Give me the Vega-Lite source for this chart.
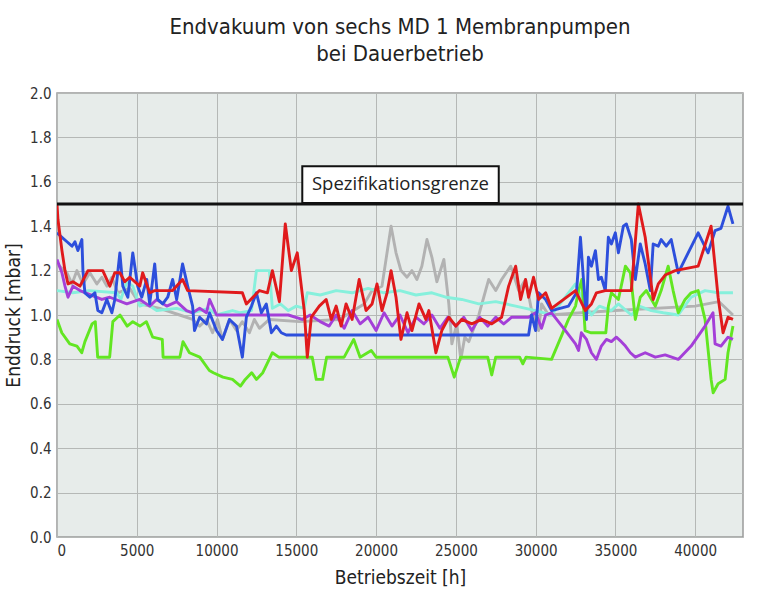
{
  "$schema": "https://vega.github.io/schema/vega-lite/v6.json",
  "autosize": "none",
  "width": 686,
  "height": 444,
  "padding": {"left": 57, "top": 93, "right": 31, "bottom": 61},
  "background": "white",
  "title": {
    "text": ["Endvakuum von sechs MD 1 Membranpumpen", "bei Dauerbetrieb"],
    "font": "DejaVu Sans Condensed, Liberation Sans Narrow, Roboto Condensed, sans-serif",
    "fontSize": 22,
    "fontWeight": "normal",
    "color": "#222",
    "lineHeight": 27,
    "offset": 20,
    "anchor": "middle"
  },
  "config": {
    "view": {"fill": "#e7ecea", "stroke": "#9a9a9a", "strokeWidth": 1.5},
    "axis": {
      "labelFont": "DejaVu Sans Condensed, Liberation Sans Narrow, Roboto Condensed, sans-serif",
      "titleFont": "DejaVu Sans Condensed, Liberation Sans Narrow, Roboto Condensed, sans-serif",
      "labelFontSize": 15,
      "titleFontSize": 19,
      "titleFontWeight": "normal",
      "labelColor": "#333",
      "titleColor": "#222",
      "gridColor": "#b5b8b6",
      "gridWidth": 1,
      "gridOpacity": 1,
      "ticks": false,
      "domain": false
    }
  },
  "datasets": {
    "pumps": [
      {"s":"grau","h":0,"p":1.23},{"s":"grau","h":625,"p":1.19},{"s":"grau","h":940,"p":1.14},{"s":"grau","h":1250,"p":1.2},{"s":"grau","h":1625,"p":1.14},{"s":"grau","h":2060,"p":1.19},{"s":"grau","h":2500,"p":1.14},{"s":"grau","h":2810,"p":1.17},{"s":"grau","h":3125,"p":1.13},{"s":"grau","h":3440,"p":1.17},{"s":"grau","h":3810,"p":1.1},{"s":"grau","h":4560,"p":1.12},{"s":"grau","h":5190,"p":1.05},{"s":"grau","h":6440,"p":1.03},{"s":"grau","h":7690,"p":1.0},{"s":"grau","h":8500,"p":0.98},{"s":"grau","h":8940,"p":0.95},{"s":"grau","h":9370,"p":0.98},{"s":"grau","h":9750,"p":0.92},{"s":"grau","h":10060,"p":0.98},{"s":"grau","h":10370,"p":0.89},{"s":"grau","h":10810,"p":0.98},{"s":"grau","h":11250,"p":0.93},{"s":"grau","h":11620,"p":0.97},{"s":"grau","h":12060,"p":0.92},{"s":"grau","h":12370,"p":0.98},{"s":"grau","h":12690,"p":0.94},{"s":"grau","h":13310,"p":0.98},{"s":"grau","h":15190,"p":0.97},{"s":"grau","h":17690,"p":0.98},{"s":"grau","h":19250,"p":1.05},{"s":"grau","h":19750,"p":1.11},{"s":"grau","h":20370,"p":1.13},{"s":"grau","h":20940,"p":1.4},{"s":"grau","h":21250,"p":1.28},{"s":"grau","h":21560,"p":1.2},{"s":"grau","h":21940,"p":1.17},{"s":"grau","h":22250,"p":1.2},{"s":"grau","h":22560,"p":1.16},{"s":"grau","h":22870,"p":1.22},{"s":"grau","h":23190,"p":1.34},{"s":"grau","h":23500,"p":1.26},{"s":"grau","h":23810,"p":1.15},{"s":"grau","h":24250,"p":1.25},{"s":"grau","h":24560,"p":1.05},{"s":"grau","h":24750,"p":0.87},{"s":"grau","h":25060,"p":0.96},{"s":"grau","h":25310,"p":0.8},{"s":"grau","h":25560,"p":0.9},{"s":"grau","h":25810,"p":0.88},{"s":"grau","h":26440,"p":1.0},{"s":"grau","h":27060,"p":1.16},{"s":"grau","h":27500,"p":1.11},{"s":"grau","h":27870,"p":1.16},{"s":"grau","h":28440,"p":1.22},{"s":"grau","h":28940,"p":1.11},{"s":"grau","h":29370,"p":1.16},{"s":"grau","h":29750,"p":1.02},{"s":"grau","h":30190,"p":0.93},{"s":"grau","h":30370,"p":1.05},{"s":"grau","h":30810,"p":1.0},{"s":"grau","h":35000,"p":1.02},{"s":"grau","h":40000,"p":1.04},{"s":"grau","h":41500,"p":1.06},{"s":"grau","h":42370,"p":1.0},

      {"s":"tuerkis","h":0,"p":1.11},{"s":"tuerkis","h":1000,"p":1.1},{"s":"tuerkis","h":2000,"p":1.11},{"s":"tuerkis","h":3750,"p":1.1},{"s":"tuerkis","h":4000,"p":1.07},{"s":"tuerkis","h":4375,"p":1.15},{"s":"tuerkis","h":4750,"p":1.13},{"s":"tuerkis","h":5190,"p":1.04},{"s":"tuerkis","h":5600,"p":1.05},{"s":"tuerkis","h":6250,"p":1.02},{"s":"tuerkis","h":7500,"p":1.03},{"s":"tuerkis","h":8500,"p":1.01},{"s":"tuerkis","h":9500,"p":1.03},{"s":"tuerkis","h":10000,"p":1.0},{"s":"tuerkis","h":11000,"p":1.02},{"s":"tuerkis","h":11500,"p":1.01},{"s":"tuerkis","h":12190,"p":1.02},{"s":"tuerkis","h":12500,"p":1.2},{"s":"tuerkis","h":13310,"p":1.2},{"s":"tuerkis","h":13500,"p":1.03},{"s":"tuerkis","h":14000,"p":1.05},{"s":"tuerkis","h":14500,"p":1.02},{"s":"tuerkis","h":15000,"p":1.04},{"s":"tuerkis","h":15500,"p":1.03},{"s":"tuerkis","h":15690,"p":1.1},{"s":"tuerkis","h":16500,"p":1.09},{"s":"tuerkis","h":17500,"p":1.11},{"s":"tuerkis","h":18500,"p":1.1},{"s":"tuerkis","h":19500,"p":1.12},{"s":"tuerkis","h":20500,"p":1.1},{"s":"tuerkis","h":21500,"p":1.11},{"s":"tuerkis","h":22500,"p":1.09},{"s":"tuerkis","h":23500,"p":1.1},{"s":"tuerkis","h":24370,"p":1.08},{"s":"tuerkis","h":25370,"p":1.07},{"s":"tuerkis","h":26440,"p":1.05},{"s":"tuerkis","h":27500,"p":1.06},{"s":"tuerkis","h":28750,"p":1.04},{"s":"tuerkis","h":30000,"p":1.02},{"s":"tuerkis","h":31000,"p":1.0},{"s":"tuerkis","h":32500,"p":1.14},{"s":"tuerkis","h":33000,"p":1.06},{"s":"tuerkis","h":33500,"p":1.0},{"s":"tuerkis","h":34000,"p":1.04},{"s":"tuerkis","h":34750,"p":1.02},{"s":"tuerkis","h":35190,"p":1.05},{"s":"tuerkis","h":36000,"p":1.0},{"s":"tuerkis","h":36500,"p":1.04},{"s":"tuerkis","h":37250,"p":1.02},{"s":"tuerkis","h":38000,"p":1.01},{"s":"tuerkis","h":38940,"p":1.0},{"s":"tuerkis","h":39750,"p":1.08},{"s":"tuerkis","h":40620,"p":1.11},{"s":"tuerkis","h":41440,"p":1.1},{"s":"tuerkis","h":42370,"p":1.1},

      {"s":"gruen","h":0,"p":0.98},{"s":"gruen","h":300,"p":0.92},{"s":"gruen","h":800,"p":0.87},{"s":"gruen","h":1250,"p":0.86},{"s":"gruen","h":1550,"p":0.83},{"s":"gruen","h":1750,"p":0.88},{"s":"gruen","h":2200,"p":0.96},{"s":"gruen","h":2400,"p":0.97},{"s":"gruen","h":2550,"p":0.81},{"s":"gruen","h":3300,"p":0.81},{"s":"gruen","h":3500,"p":0.97},{"s":"gruen","h":3950,"p":1.0},{"s":"gruen","h":4400,"p":0.95},{"s":"gruen","h":4750,"p":0.97},{"s":"gruen","h":5200,"p":0.95},{"s":"gruen","h":5600,"p":0.97},{"s":"gruen","h":6000,"p":0.9},{"s":"gruen","h":6600,"p":0.89},{"s":"gruen","h":6650,"p":0.81},{"s":"gruen","h":7700,"p":0.81},{"s":"gruen","h":7900,"p":0.88},{"s":"gruen","h":8300,"p":0.83},{"s":"gruen","h":8950,"p":0.81},{"s":"gruen","h":9550,"p":0.75},{"s":"gruen","h":9800,"p":0.74},{"s":"gruen","h":10400,"p":0.72},{"s":"gruen","h":11000,"p":0.71},{"s":"gruen","h":11500,"p":0.68},{"s":"gruen","h":11800,"p":0.71},{"s":"gruen","h":12200,"p":0.74},{"s":"gruen","h":12500,"p":0.71},{"s":"gruen","h":12900,"p":0.74},{"s":"gruen","h":13300,"p":0.8},{"s":"gruen","h":13500,"p":0.83},{"s":"gruen","h":13900,"p":0.81},{"s":"gruen","h":16000,"p":0.81},{"s":"gruen","h":16250,"p":0.71},{"s":"gruen","h":16650,"p":0.71},{"s":"gruen","h":16900,"p":0.81},{"s":"gruen","h":18000,"p":0.81},{"s":"gruen","h":18600,"p":0.89},{"s":"gruen","h":19000,"p":0.81},{"s":"gruen","h":19700,"p":0.84},{"s":"gruen","h":20000,"p":0.81},{"s":"gruen","h":24500,"p":0.81},{"s":"gruen","h":24900,"p":0.72},{"s":"gruen","h":25300,"p":0.81},{"s":"gruen","h":27000,"p":0.81},{"s":"gruen","h":27250,"p":0.73},{"s":"gruen","h":27500,"p":0.81},{"s":"gruen","h":29000,"p":0.81},{"s":"gruen","h":29200,"p":0.78},{"s":"gruen","h":29400,"p":0.81},{"s":"gruen","h":31000,"p":0.8},{"s":"gruen","h":32060,"p":0.98},{"s":"gruen","h":32500,"p":1.04},{"s":"gruen","h":32700,"p":1.11},{"s":"gruen","h":32900,"p":1.16},{"s":"gruen","h":33100,"p":0.93},{"s":"gruen","h":33450,"p":0.92},{"s":"gruen","h":34400,"p":0.92},{"s":"gruen","h":34560,"p":1.04},{"s":"gruen","h":34750,"p":1.1},{"s":"gruen","h":35190,"p":1.07},{"s":"gruen","h":35630,"p":1.22},{"s":"gruen","h":35940,"p":1.19},{"s":"gruen","h":36250,"p":0.98},{"s":"gruen","h":36560,"p":1.08},{"s":"gruen","h":36940,"p":1.11},{"s":"gruen","h":37500,"p":1.04},{"s":"gruen","h":37870,"p":1.11},{"s":"gruen","h":38310,"p":1.22},{"s":"gruen","h":38620,"p":1.11},{"s":"gruen","h":38940,"p":1.01},{"s":"gruen","h":39370,"p":1.07},{"s":"gruen","h":39750,"p":1.1},{"s":"gruen","h":40190,"p":1.11},{"s":"gruen","h":40620,"p":0.98},{"s":"gruen","h":41000,"p":0.71},{"s":"gruen","h":41130,"p":0.65},{"s":"gruen","h":41440,"p":0.69},{"s":"gruen","h":41880,"p":0.71},{"s":"gruen","h":42060,"p":0.83},{"s":"gruen","h":42370,"p":0.95},

      {"s":"lila","h":0,"p":1.25},{"s":"lila","h":310,"p":1.19},{"s":"lila","h":500,"p":1.13},{"s":"lila","h":690,"p":1.08},{"s":"lila","h":1000,"p":1.13},{"s":"lila","h":1440,"p":1.11},{"s":"lila","h":2810,"p":1.07},{"s":"lila","h":3310,"p":1.08},{"s":"lila","h":4375,"p":1.05},{"s":"lila","h":5190,"p":1.07},{"s":"lila","h":5810,"p":1.04},{"s":"lila","h":6250,"p":1.07},{"s":"lila","h":6880,"p":1.04},{"s":"lila","h":7500,"p":1.06},{"s":"lila","h":8120,"p":1.02},{"s":"lila","h":8500,"p":1.01},{"s":"lila","h":8940,"p":1.03},{"s":"lila","h":9370,"p":1.01},{"s":"lila","h":9560,"p":1.07},{"s":"lila","h":10000,"p":1.0},{"s":"lila","h":14500,"p":1.0},{"s":"lila","h":15370,"p":0.98},{"s":"lila","h":15870,"p":1.0},{"s":"lila","h":16500,"p":0.97},{"s":"lila","h":17060,"p":0.95},{"s":"lila","h":17500,"p":1.0},{"s":"lila","h":18000,"p":0.94},{"s":"lila","h":18500,"p":1.02},{"s":"lila","h":19000,"p":0.96},{"s":"lila","h":19500,"p":0.99},{"s":"lila","h":20000,"p":0.93},{"s":"lila","h":20500,"p":1.01},{"s":"lila","h":21000,"p":0.95},{"s":"lila","h":21500,"p":1.0},{"s":"lila","h":22000,"p":0.92},{"s":"lila","h":22500,"p":0.99},{"s":"lila","h":23000,"p":0.96},{"s":"lila","h":23500,"p":1.0},{"s":"lila","h":24000,"p":0.94},{"s":"lila","h":24500,"p":0.99},{"s":"lila","h":25000,"p":0.95},{"s":"lila","h":25500,"p":0.99},{"s":"lila","h":26000,"p":0.93},{"s":"lila","h":26500,"p":0.99},{"s":"lila","h":27000,"p":0.95},{"s":"lila","h":27500,"p":0.99},{"s":"lila","h":28000,"p":0.96},{"s":"lila","h":28500,"p":0.99},{"s":"lila","h":29560,"p":0.99},{"s":"lila","h":30000,"p":1.01},{"s":"lila","h":30370,"p":0.94},{"s":"lila","h":30630,"p":1.0},{"s":"lila","h":31000,"p":1.01},{"s":"lila","h":31870,"p":0.93},{"s":"lila","h":32500,"p":0.87},{"s":"lila","h":32690,"p":0.84},{"s":"lila","h":32870,"p":0.92},{"s":"lila","h":33190,"p":0.89},{"s":"lila","h":33500,"p":0.83},{"s":"lila","h":33810,"p":0.8},{"s":"lila","h":34120,"p":0.86},{"s":"lila","h":34440,"p":0.89},{"s":"lila","h":34750,"p":0.88},{"s":"lila","h":35060,"p":0.9},{"s":"lila","h":35370,"p":0.88},{"s":"lila","h":35630,"p":0.86},{"s":"lila","h":35940,"p":0.83},{"s":"lila","h":36250,"p":0.81},{"s":"lila","h":36870,"p":0.83},{"s":"lila","h":37500,"p":0.81},{"s":"lila","h":38120,"p":0.82},{"s":"lila","h":38940,"p":0.8},{"s":"lila","h":39750,"p":0.86},{"s":"lila","h":40620,"p":0.95},{"s":"lila","h":41120,"p":1.01},{"s":"lila","h":41250,"p":0.87},{"s":"lila","h":41620,"p":0.86},{"s":"lila","h":42060,"p":0.9},{"s":"lila","h":42370,"p":0.89},

      {"s":"blau","h":0,"p":1.37},{"s":"blau","h":310,"p":1.35},{"s":"blau","h":625,"p":1.33},{"s":"blau","h":940,"p":1.31},{"s":"blau","h":1125,"p":1.33},{"s":"blau","h":1310,"p":1.29},{"s":"blau","h":1560,"p":1.34},{"s":"blau","h":1625,"p":1.2},{"s":"blau","h":1750,"p":1.1},{"s":"blau","h":2060,"p":1.08},{"s":"blau","h":2375,"p":1.1},{"s":"blau","h":2560,"p":1.02},{"s":"blau","h":2810,"p":1.01},{"s":"blau","h":3125,"p":1.07},{"s":"blau","h":3440,"p":1.01},{"s":"blau","h":3625,"p":1.07},{"s":"blau","h":3940,"p":1.28},{"s":"blau","h":4125,"p":1.13},{"s":"blau","h":4440,"p":1.08},{"s":"blau","h":4750,"p":1.28},{"s":"blau","h":5060,"p":1.13},{"s":"blau","h":5310,"p":1.08},{"s":"blau","h":5625,"p":1.16},{"s":"blau","h":5810,"p":1.05},{"s":"blau","h":6125,"p":1.23},{"s":"blau","h":6310,"p":1.07},{"s":"blau","h":6625,"p":1.05},{"s":"blau","h":6940,"p":1.08},{"s":"blau","h":7250,"p":1.16},{"s":"blau","h":7500,"p":1.07},{"s":"blau","h":7870,"p":1.23},{"s":"blau","h":8190,"p":1.13},{"s":"blau","h":8500,"p":1.04},{"s":"blau","h":8620,"p":0.93},{"s":"blau","h":8940,"p":0.99},{"s":"blau","h":9370,"p":0.96},{"s":"blau","h":9560,"p":1.01},{"s":"blau","h":10000,"p":0.93},{"s":"blau","h":10370,"p":0.89},{"s":"blau","h":10810,"p":0.98},{"s":"blau","h":11250,"p":0.95},{"s":"blau","h":11620,"p":0.81},{"s":"blau","h":11870,"p":0.99},{"s":"blau","h":12190,"p":1.04},{"s":"blau","h":12500,"p":1.1},{"s":"blau","h":12810,"p":1.01},{"s":"blau","h":13120,"p":1.05},{"s":"blau","h":13440,"p":0.92},{"s":"blau","h":13750,"p":0.95},{"s":"blau","h":14060,"p":0.92},{"s":"blau","h":14370,"p":0.91},{"s":"blau","h":20000,"p":0.91},{"s":"blau","h":25000,"p":0.91},{"s":"blau","h":29560,"p":0.91},{"s":"blau","h":29750,"p":1.0},{"s":"blau","h":30000,"p":0.93},{"s":"blau","h":30190,"p":1.1},{"s":"blau","h":30630,"p":1.07},{"s":"blau","h":31000,"p":1.02},{"s":"blau","h":32060,"p":1.04},{"s":"blau","h":32560,"p":1.1},{"s":"blau","h":32810,"p":1.35},{"s":"blau","h":33000,"p":1.16},{"s":"blau","h":33190,"p":0.98},{"s":"blau","h":33310,"p":1.26},{"s":"blau","h":33500,"p":1.22},{"s":"blau","h":33750,"p":1.29},{"s":"blau","h":33940,"p":1.16},{"s":"blau","h":34120,"p":1.17},{"s":"blau","h":34370,"p":1.11},{"s":"blau","h":34560,"p":1.35},{"s":"blau","h":34750,"p":1.32},{"s":"blau","h":35000,"p":1.37},{"s":"blau","h":35190,"p":1.28},{"s":"blau","h":35500,"p":1.4},{"s":"blau","h":35690,"p":1.41},{"s":"blau","h":36000,"p":1.34},{"s":"blau","h":36250,"p":1.16},{"s":"blau","h":36560,"p":1.32},{"s":"blau","h":36870,"p":1.23},{"s":"blau","h":37190,"p":1.11},{"s":"blau","h":37370,"p":1.32},{"s":"blau","h":37690,"p":1.31},{"s":"blau","h":37870,"p":1.34},{"s":"blau","h":38190,"p":1.31},{"s":"blau","h":38500,"p":1.34},{"s":"blau","h":38940,"p":1.19},{"s":"blau","h":40190,"p":1.37},{"s":"blau","h":40810,"p":1.28},{"s":"blau","h":41250,"p":1.38},{"s":"blau","h":41620,"p":1.39},{"s":"blau","h":42060,"p":1.49},{"s":"blau","h":42370,"p":1.41},

      {"s":"rot","h":0,"p":1.5},{"s":"rot","h":60,"p":1.43},{"s":"rot","h":310,"p":1.29},{"s":"rot","h":500,"p":1.2},{"s":"rot","h":690,"p":1.14},{"s":"rot","h":1000,"p":1.15},{"s":"rot","h":1440,"p":1.13},{"s":"rot","h":1940,"p":1.2},{"s":"rot","h":2870,"p":1.2},{"s":"rot","h":3310,"p":1.13},{"s":"rot","h":3620,"p":1.19},{"s":"rot","h":3940,"p":1.19},{"s":"rot","h":4250,"p":1.15},{"s":"rot","h":4560,"p":1.17},{"s":"rot","h":5190,"p":1.13},{"s":"rot","h":5370,"p":1.19},{"s":"rot","h":5810,"p":1.1},{"s":"rot","h":6120,"p":1.11},{"s":"rot","h":7250,"p":1.11},{"s":"rot","h":7870,"p":1.16},{"s":"rot","h":8190,"p":1.11},{"s":"rot","h":11620,"p":1.1},{"s":"rot","h":11870,"p":1.05},{"s":"rot","h":12690,"p":1.11},{"s":"rot","h":13190,"p":1.1},{"s":"rot","h":13500,"p":1.2},{"s":"rot","h":13940,"p":1.06},{"s":"rot","h":14310,"p":1.41},{"s":"rot","h":14690,"p":1.2},{"s":"rot","h":15060,"p":1.28},{"s":"rot","h":15500,"p":1.02},{"s":"rot","h":15690,"p":0.81},{"s":"rot","h":15940,"p":0.99},{"s":"rot","h":16440,"p":1.04},{"s":"rot","h":16870,"p":1.07},{"s":"rot","h":17190,"p":0.98},{"s":"rot","h":17500,"p":1.04},{"s":"rot","h":17810,"p":0.95},{"s":"rot","h":18120,"p":1.05},{"s":"rot","h":18500,"p":0.98},{"s":"rot","h":18940,"p":1.16},{"s":"rot","h":19370,"p":1.02},{"s":"rot","h":19750,"p":1.05},{"s":"rot","h":20060,"p":1.14},{"s":"rot","h":20370,"p":1.02},{"s":"rot","h":20690,"p":1.1},{"s":"rot","h":20940,"p":1.2},{"s":"rot","h":21250,"p":1.08},{"s":"rot","h":21560,"p":0.89},{"s":"rot","h":21940,"p":1.01},{"s":"rot","h":22250,"p":0.93},{"s":"rot","h":22690,"p":1.05},{"s":"rot","h":23120,"p":0.98},{"s":"rot","h":23310,"p":1.02},{"s":"rot","h":23750,"p":0.83},{"s":"rot","h":24120,"p":0.93},{"s":"rot","h":24560,"p":0.99},{"s":"rot","h":25000,"p":0.95},{"s":"rot","h":25370,"p":0.98},{"s":"rot","h":26000,"p":0.96},{"s":"rot","h":26620,"p":0.98},{"s":"rot","h":27250,"p":0.96},{"s":"rot","h":27870,"p":0.99},{"s":"rot","h":28310,"p":1.13},{"s":"rot","h":28750,"p":1.22},{"s":"rot","h":29060,"p":1.07},{"s":"rot","h":29370,"p":1.16},{"s":"rot","h":29560,"p":1.08},{"s":"rot","h":29870,"p":1.17},{"s":"rot","h":30190,"p":1.07},{"s":"rot","h":30630,"p":1.1},{"s":"rot","h":31000,"p":1.03},{"s":"rot","h":32500,"p":1.11},{"s":"rot","h":33120,"p":1.02},{"s":"rot","h":33500,"p":1.05},{"s":"rot","h":33810,"p":1.1},{"s":"rot","h":34370,"p":1.11},{"s":"rot","h":36000,"p":1.11},{"s":"rot","h":36440,"p":1.5},{"s":"rot","h":36870,"p":1.35},{"s":"rot","h":37370,"p":1.07},{"s":"rot","h":37690,"p":1.14},{"s":"rot","h":38120,"p":1.18},{"s":"rot","h":38750,"p":1.2},{"s":"rot","h":40190,"p":1.22},{"s":"rot","h":41000,"p":1.4},{"s":"rot","h":41440,"p":1.08},{"s":"rot","h":41750,"p":0.92},{"s":"rot","h":42060,"p":0.99},{"s":"rot","h":42370,"p":0.98}
    ]
  },
  "layer": [
    {
      "data": {"name": "pumps"},
      "mark": {"type": "line", "strokeWidth": 2.9, "strokeJoin": "round", "clip": true},
      "encoding": {
        "x": {
          "field": "h", "type": "quantitative",
          "scale": {"domain": [0, 43000], "nice": false, "zero": false},
          "axis": {"values": [0,5000,10000,15000,20000,25000,30000,35000,40000], "format": "d", "title": "Betriebszeit [h]", "labelPadding": 6, "titlePadding": 10, "grid": true}
        },
        "y": {
          "field": "p", "type": "quantitative",
          "scale": {"domain": [0, 2], "nice": false},
          "axis": {"values": [0,0.2,0.4,0.6,0.8,1.0,1.2,1.4,1.6,1.8,2.0], "format": ".1f", "title": "Enddruck [mbar]", "labelPadding": 6, "titlePadding": 6, "grid": true}
        },
        "color": {
          "field": "s", "type": "nominal",
          "scale": {"domain": ["grau","tuerkis","gruen","lila","blau","rot"], "range": ["#b2b2b2","#86f0dc","#62e622","#a43fd8","#2d4fdc","#e01a1c"]},
          "legend": null
        }
      }
    },
    {
      "data": {"values": [{"grenze": 1.5}]},
      "mark": {"type": "rule", "color": "#111", "strokeWidth": 3},
      "encoding": {"y": {"field": "grenze", "type": "quantitative"}}
    },
    {
      "data": {"values": [{"x1": 15375, "x2": 27690, "y1": 1.505, "y2": 1.67}]},
      "mark": {"type": "rect", "fill": "white", "stroke": "#111", "strokeWidth": 2},
      "encoding": {
        "x": {"field": "x1", "type": "quantitative"},
        "x2": {"field": "x2"},
        "y": {"field": "y1", "type": "quantitative"},
        "y2": {"field": "y2"}
      }
    },
    {
      "data": {"values": [{"x": 21530, "y": 1.588, "t": "Spezifikationsgrenze"}]},
      "mark": {"type": "text", "font": "Open Sans, Noto Sans, sans-serif", "fontSize": 18.5, "color": "#222", "align": "center", "baseline": "middle"},
      "encoding": {
        "x": {"field": "x", "type": "quantitative"},
        "y": {"field": "y", "type": "quantitative"},
        "text": {"field": "t"}
      }
    }
  ]
}
